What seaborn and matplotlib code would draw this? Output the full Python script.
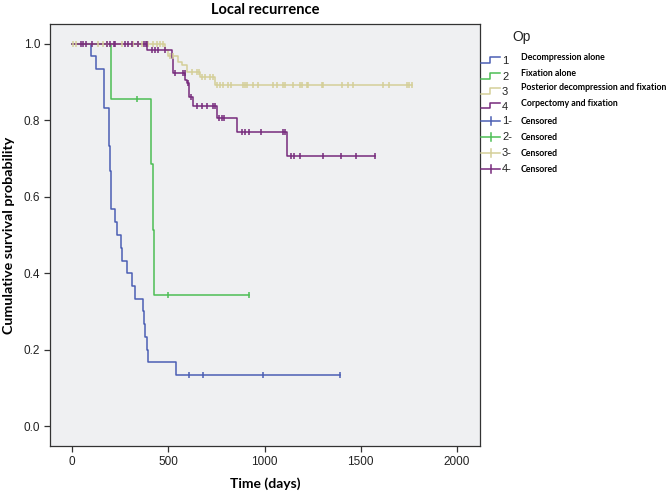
import numpy as np
import pandas as pd
import matplotlib
matplotlib.use("Agg")
import matplotlib.pyplot as plt
from matplotlib.lines import Line2D
import seaborn as sns

# ---------------- data ----------------
groups = ["1", "2", "3", "4"]
group_labels = ["Decompression alone", "Fixation alone",
                "Posterior decompression and fixation", "Corpectomy and fixation"]
colors = ["#4B5FB4", "#4DBE55", "#D4CF98", "#762A7C"]

times1 = [99, 123, 165, 191, 193, 195, 200, 223, 232, 255, 261, 284, 313, 327, 370, 375, 380, 388, 396, 539]
surv1 = [0.967, 0.933, 0.833, 0.800, 0.733, 0.667, 0.567, 0.533, 0.500, 0.467, 0.433, 0.400, 0.367, 0.333,
         0.300, 0.267, 0.233, 0.200, 0.167, 0.133]
cens1 = [609, 682, 991, 1392]

times2 = [201, 410, 419, 427]
surv2 = [0.857, 0.686, 0.514, 0.343]
cens2 = [339, 497, 919]

times3 = [483, 500, 552, 570, 596, 665, 743]
surv3 = [0.984, 0.967, 0.953, 0.945, 0.927, 0.914, 0.893]
cens3 = [4, 21, 137, 159, 180, 258, 318, 344, 362, 396, 422, 440, 457, 474, 509, 526, 622, 648, 661, 674,
         691, 717, 734, 752, 769, 786, 812, 824, 890, 899, 907, 942, 968, 1046, 1063, 1098, 1106, 1150, 1184,
         1193, 1219, 1228, 1297, 1306, 1401, 1436, 1462, 1617, 1648, 1739, 1752, 1766]

times4 = [391, 518, 526, 587, 596, 609, 628, 752, 856, 1118]
surv4 = [0.983, 0.963, 0.925, 0.906, 0.897, 0.862, 0.838, 0.807, 0.770, 0.707]
cens4 = [45, 59, 73, 102, 180, 197, 218, 223, 275, 292, 309, 344, 374, 384, 388, 414, 431, 448, 483, 535,
         578, 585, 601, 618, 648, 674, 700, 734, 743, 765, 778, 791, 881, 899, 921, 982, 1098, 1106, 1136,
         1153, 1184, 1302, 1397, 1474, 1574]

x_ticks = [0, 500, 1000, 1500, 2000]
y_ticks = [0.0, 0.2, 0.4, 0.6, 0.8, 1.0]

# ---------------- build tables ----------------
series = [(times1, surv1, cens1), (times2, surv2, cens2), (times3, surv3, cens3), (times4, surv4, cens4)]
line_rows, cens_rows = [], []
for g, (t, s, c) in zip(groups, series):
    t_all = [0] + list(t)
    s_all = [1.0] + list(s)
    end = max(max(c), max(t))
    t_all.append(end)
    s_all.append(s_all[-1])
    for ti, si in zip(t_all, s_all):
        line_rows.append((g, ti, si))
    tt = np.array([0] + list(t))
    ss = np.array([1.0] + list(s))
    for ci in c:
        idx = np.searchsorted(tt, ci, side="right") - 1
        cens_rows.append((g, ci, ss[idx]))
lines_df = pd.DataFrame(line_rows, columns=["Op", "time", "surv"])
cens_df = pd.DataFrame(cens_rows, columns=["Op", "time", "surv"])
palette = dict(zip(groups, colors))

# ---------------- figure ----------------
W, H = 669, 492
fig = plt.figure(figsize=(W / 100, H / 100), dpi=100)
ax = fig.add_axes([50 / W, 1 - 446 / H, 430 / W, 422 / H])
ax.set_facecolor("#EFF0F2")

for g in groups:
    sub = lines_df[lines_df["Op"] == g]
    sns.lineplot(data=sub, x="time", y="surv", color=palette[g], drawstyle="steps-post",
                 estimator=None, sort=False, linewidth=1.1, ax=ax, legend=False)
for g in groups:
    sub = cens_df[cens_df["Op"] == g]
    ax.plot(sub["time"], sub["surv"], linestyle="none", marker="|", markersize=5,
            markeredgewidth=1.1, color=palette[g])

ax.set_xlim(-115, 2120)
ax.set_ylim(-0.052, 1.052)
ax.set_xticks(x_ticks)
ax.set_xticklabels([str(v) for v in x_ticks])
ax.set_yticks(y_ticks)
ax.set_yticklabels([f"{v:.1f}" for v in y_ticks])
ax.tick_params(axis="both", direction="out", length=4, width=0.9, color="#333333",
               labelsize=8.5, labelcolor="#222222", pad=3)
for lab in ax.get_xticklabels() + ax.get_yticklabels():
    lab.set_fontfamily("Liberation Sans")
for sp in ax.spines.values():
    sp.set_color("#333333")
    sp.set_linewidth(0.9)

ax.set_xlabel("Time (days)", fontsize=10, fontweight="bold", family="Lato", labelpad=7)
ax.set_ylabel("Cumulative survival probability", fontsize=10.3, fontweight="bold", family="Lato", labelpad=6)
ax.set_title("Local recurrence", fontsize=10.5, fontweight="bold", family="Lato", pad=7)

# ---------------- legend (SPSS style) ----------------
def fx(px):
    return px / W

def fy(py):
    return 1 - py / H

fig.text(fx(512), fy(37), "Op", fontsize=10, family="Liberation Sans", va="center", ha="left", color="#222222")
leg_y = [61, 77, 92, 107]
lab_y = [57, 73, 88, 103]
for i, g in enumerate(groups):
    y0 = leg_y[i]
    xs = [fx(481), fx(490), fx(490), fx(500)]
    ys = [fy(y0 + 1.5), fy(y0 + 1.5), fy(y0 - 4), fy(y0 - 4)]
    fig.add_artist(Line2D(xs, ys, color=colors[i], lw=1.1, transform=fig.transFigure))
    fig.text(fx(502), fy(y0), g, fontsize=8, family="Liberation Sans", va="center", ha="left", color="#222222")
    fig.text(fx(521), fy(lab_y[i]), group_labels[i], fontsize=6.3, family="Lato", fontweight="bold",
             va="center", ha="left", color="black")
cens_y = [121, 137, 153, 169]
for i, g in enumerate(groups):
    y0 = cens_y[i]
    fig.add_artist(Line2D([fx(481), fx(500)], [fy(y0), fy(y0)], color=colors[i], lw=1.1,
                          transform=fig.transFigure))
    fig.add_artist(Line2D([fx(490.5), fx(490.5)], [fy(y0 - 4), fy(y0 + 4)], color=colors[i], lw=1.1,
                          transform=fig.transFigure))
    fig.text(fx(502), fy(y0), g + "-", fontsize=8, family="Liberation Sans", va="center", ha="left",
             color="#222222")
    fig.text(fx(521), fy(y0), "Censored", fontsize=6.3, family="Lato", fontweight="bold",
             va="center", ha="left", color="black")

fig.savefig("out.png", dpi=100)
